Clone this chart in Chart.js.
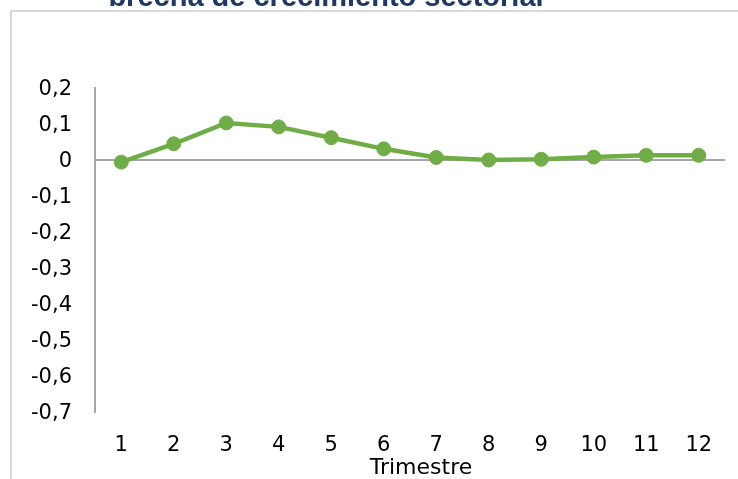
<!DOCTYPE html>
<html>
<head>
<meta charset="utf-8">
<script src="https://cdn.jsdelivr.net/npm/chart.js@4/dist/chart.umd.min.js"></script>
<style>
  html, body { margin: 0; padding: 0; background: #ffffff; }
  #wrap { width: 738px; height: 479px; position: relative; }
</style>
</head>
<body>
<div id="wrap"><canvas id="c" width="738" height="479"></canvas></div>
<script>
// Quarters on the horizontal axis
const trimestres = ['1', '2', '3', '4', '5', '6', '7', '8', '9', '10', '11', '12'];
// Sectoral growth gap per quarter
const brecha = [-0.006, 0.045, 0.103, 0.092, 0.062, 0.031, 0.007, 0.000, 0.002, 0.008, 0.013, 0.013];
// Vertical axis labels, top to bottom
const yTickLabels = ['0,2', '0,1', '0', '-0,1', '-0,2', '-0,3', '-0,4', '-0,5', '-0,6', '-0,7'];
const yMax = 0.2, yMin = -0.7, yStep = 0.1;

const tituloGrafico = 'brecha de crecimiento sectorial';
const tituloEjeX = 'Trimestre';

const FONT = '"DejaVu Sans", Verdana, sans-serif';

// Outer frame, cropped title and the axis caption
const decor = {
  id: 'decor',
  beforeDraw(chart) {
    const ctx = chart.ctx;
    ctx.save();
    ctx.strokeStyle = '#d9d9d9';
    ctx.lineWidth = 2;
    ctx.beginPath();
    ctx.moveTo(11, 479);
    ctx.lineTo(11, 11);
    ctx.lineTo(738, 11);
    ctx.stroke();

    ctx.fillStyle = '#1f3864';
    ctx.font = 'bold 29px "Liberation Sans", Arial, sans-serif';
    ctx.textAlign = 'center';
    ctx.textBaseline = 'alphabetic';
    ctx.fillText(tituloGrafico, 326, 6);

    ctx.fillStyle = '#000000';
    ctx.font = '22px ' + FONT;
    ctx.fillText(tituloEjeX, 421, 474);
    ctx.restore();
  }
};

new Chart(document.getElementById('c'), {
  type: 'line',
  data: {
    labels: trimestres,
    datasets: [{
      data: brecha,
      borderColor: '#70ad47',
      backgroundColor: '#70ad47',
      borderWidth: 4.5,
      pointRadius: 7,
      pointBorderWidth: 1,
      pointBackgroundColor: '#70ad47',
      pointBorderColor: '#70ad47',
      tension: 0,
      clip: false
    }]
  },
  options: {
    responsive: false,
    animation: false,
    devicePixelRatio: 1,
    layout: { padding: { top: 88, right: 13, bottom: 0, left: 0 } },
    plugins: {
      legend: { display: false },
      title: { display: false },
      tooltip: { enabled: false }
    },
    scales: {
      x: {
        type: 'category',
        offset: true,
        grid: { display: false, drawTicks: false },
        border: { display: false },
        ticks: {
          color: '#000000',
          font: { family: FONT, size: 21 },
          padding: 21,
          maxRotation: 0,
          autoSkip: false
        },
        afterFit(scale) { scale.height = 67; }
      },
      y: {
        min: yMin,
        max: yMax,
        grid: {
          drawTicks: false,
          lineWidth: 2,
          color: (c) => (c.tick && Math.abs(c.tick.value) < 1e-9) ? '#a6a6a6' : 'rgba(0,0,0,0)'
        },
        border: { display: true, color: '#a6a6a6', width: 2 },
        ticks: {
          stepSize: yStep,
          color: '#000000',
          font: { family: FONT, size: 21 },
          padding: 23,
          labelOffset: 2,
          callback: (v) => {
            const i = Math.round((yMax - v) / yStep);
            return yTickLabels[i];
          }
        },
        afterFit(scale) { scale.width = 95; }
      }
    }
  },
  plugins: [decor]
});
</script>
</body>
</html>
